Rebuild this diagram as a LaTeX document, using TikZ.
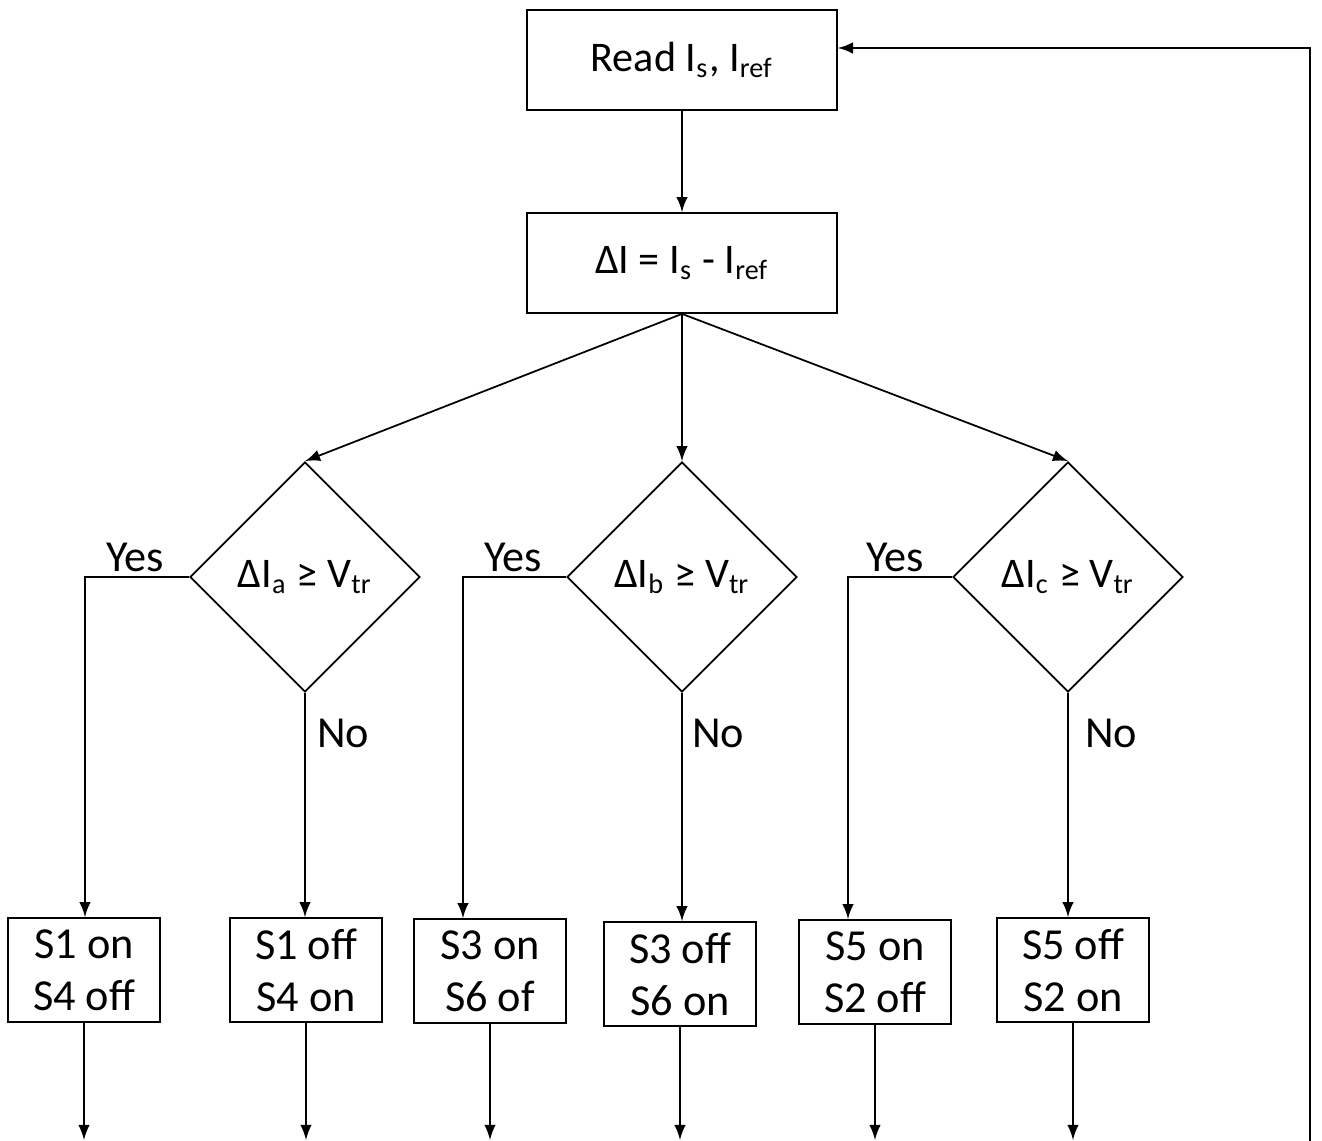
\documentclass[tikz,border=0pt]{standalone}
\usepackage{fontspec}
\setmainfont{Carlito}
\usetikzlibrary{shapes.geometric, arrows}

\begin{document}
\begin{tikzpicture}[line width=0.5pt, >=latex,
    box/.style={draw, minimum width=3.1cm, minimum height=1cm, font=\fontsize{12}{14}\selectfont},
    sw/.style={draw, minimum width=1.52cm, minimum height=1.04cm, inner sep=0pt, align=center, font=\fontsize{12.6}{14.8}\selectfont},
    decision/.style={draw, diamond, aspect=1, minimum width=2.3cm, minimum height=2.3cm, inner sep=0pt, font=\fontsize{12}{14}\selectfont},
    yn/.style={anchor=base, font=\fontsize{12.6}{14}\selectfont}]
    \useasboundingbox (0,0) rectangle (13.22,-11.41);

    \node[box] (read) at (6.82,-0.60) {Read I\textsubscript{s}, I\textsubscript{ref}};
    \node[box] (dI) at (6.82,-2.63) {ΔI = I\textsubscript{s} - I\textsubscript{ref}};
    \draw[->] (read) -- (dI);

    \node[decision] (dIa) at (3.05,-5.77) {ΔI\textsubscript{a} ≥ V\textsubscript{tr}};
    \node[decision] (dIb) at (6.82,-5.77) {ΔI\textsubscript{b} ≥ V\textsubscript{tr}};
    \node[decision] (dIc) at (10.68,-5.77) {ΔI\textsubscript{c} ≥ V\textsubscript{tr}};
    \foreach \d in {dIa, dIb, dIc}
        \draw[->] (dI.south) -- (\d.north);

    \node[sw] (sa1) at (0.84,-9.70) {S1 on\\S4 off};
    \node[sw] (sa2) at (3.06,-9.70) {S1 off\\S4 on};
    \node[sw] (sb1) at (4.90,-9.71) {S3 on\\S6 of};
    \node[sw] (sb2) at (6.80,-9.74) {S3 off\\S6 on};
    \node[sw] (sc1) at (8.75,-9.72) {S5 on\\S2 off};
    \node[sw] (sc2) at (10.73,-9.70) {S5 off\\S2 on};

    % yes branches
    \coordinate (ya) at (0.85,-5.77);
    \coordinate (yb) at (4.63,-5.77);
    \coordinate (yc) at (8.48,-5.77);
    \draw[->] (dIa.west) -- (ya) -- (ya |- sa1.north);
    \draw[->] (dIb.west) -- (yb) -- (yb |- sb1.north);
    \draw[->] (dIc.west) -- (yc) -- (yc |- sc1.north);
    \node[yn] (yesa) at (1.35,-5.72) {Yes};
    \node[yn] (yesb) at (5.13,-5.72) {Yes};
    \node[yn] (yesc) at (8.95,-5.72) {Yes};

    % no branches
    \draw[->] (dIa.south) -- (dIa.south |- sa2.north);
    \draw[->] (dIb.south) -- (dIb.south |- sb2.north);
    \draw[->] (dIc.south) -- (dIc.south |- sc2.north);
    \node[yn] (noa) at (3.43,-7.47) {No};
    \node[yn] (nob) at (7.18,-7.47) {No};
    \node[yn] (noc) at (11.11,-7.47) {No};

    \coordinate (bot) at (0,-11.40);
    \foreach \n in {sa1, sa2, sb1, sb2, sc1, sc2}
        \draw[->] (\n.south) -- (\n.south |- bot);

    % loop back
    \coordinate (back) at (13.10,-11.41);
    \draw[->] (back) |- ([yshift=1.2mm]read.east);
\end{tikzpicture}
\end{document}
